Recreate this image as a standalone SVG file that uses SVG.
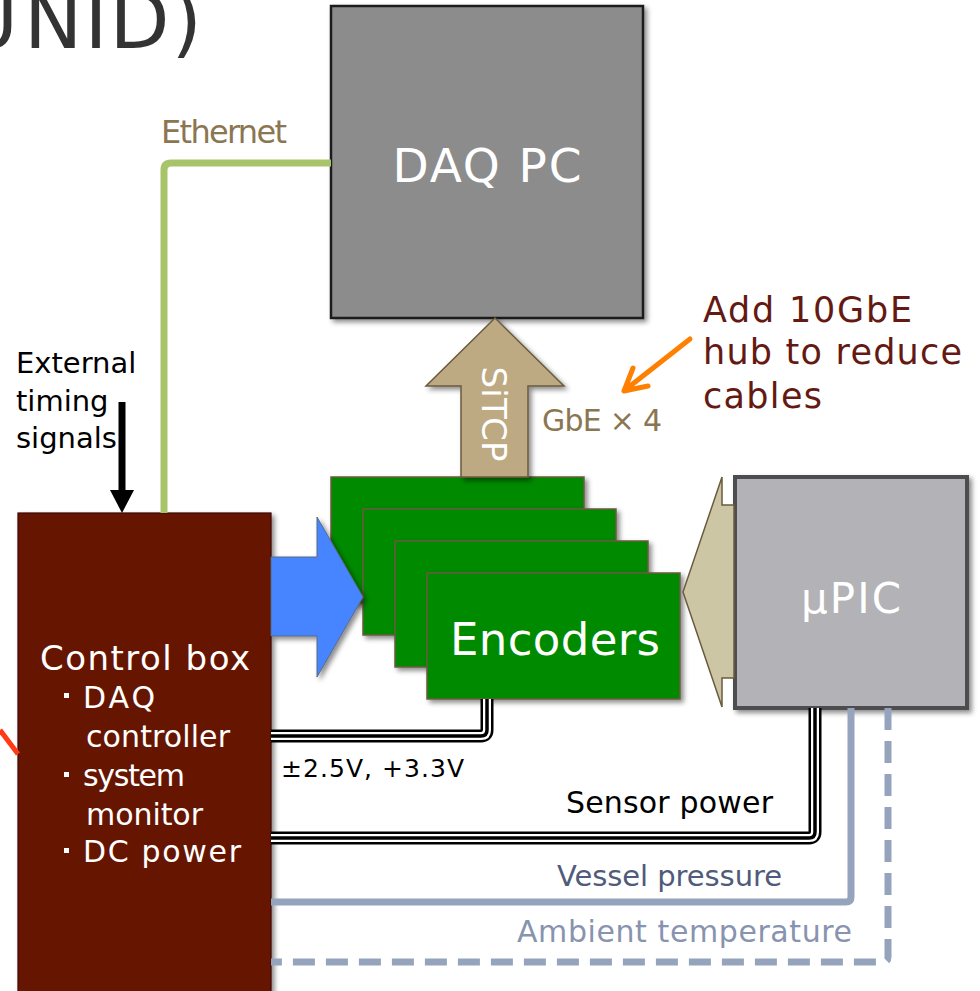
<svg xmlns="http://www.w3.org/2000/svg" width="980" height="991" viewBox="0 0 980 991">
<defs>
<filter id="sh" x="-10%" y="-10%" width="130%" height="130%">
<feDropShadow dx="3" dy="3" stdDeviation="2.5" flood-color="#000" flood-opacity="0.45"/>
</filter>
<style>
text{font-family:"DejaVu Sans","Liberation Sans",sans-serif;}
.w{fill:#fff;}
.enc{fill:#008a00;stroke:#6b5b3e;stroke-width:1.5;filter:url(#sh);}
.ck{fill:none;stroke-linejoin:round;stroke-linecap:butt;}
.c1{stroke:#000;stroke-width:13;}
.c2{stroke:#fff;stroke-width:8;}
.c3{stroke:#000;stroke-width:3.5;}
.sen{fill:none;stroke:#95a3bd;stroke-width:7;stroke-linejoin:round;}
.brn{fill:#8b7652;}
</style>
</defs>
<rect width="980" height="991" fill="#fff"/>

<g id="title">
<text y="48" font-size="78" fill="#333"><tspan x="-39">U</tspan><tspan x="24" textLength="178" lengthAdjust="spacing">NID)</tspan></text>
</g>

<g id="daq-pc">
<rect x="331" y="6" width="312" height="312" fill="#8c8c8c" stroke="#1a1a1a" stroke-width="2.5" filter="url(#sh)"/>
<text x="487" y="182" font-size="47" class="w" text-anchor="middle" textLength="189">DAQ PC</text>
</g>

<g id="control-box">
<rect x="18" y="513" width="253" height="485" fill="#661300" stroke="#3d0b00" stroke-width="1.2" filter="url(#sh)"/>
<text x="40" y="670" font-size="34" class="w" textLength="210">Control box</text>
<rect x="64" y="693" width="5" height="5" class="w"/>
<text x="83" y="708" font-size="30" class="w" textLength="72">DAQ</text>
<text x="86" y="747" font-size="30" class="w" textLength="144">controller</text>
<rect x="64" y="772" width="5" height="5" class="w"/>
<text x="83" y="786" font-size="30" class="w" textLength="102">system</text>
<text x="86" y="825" font-size="30" class="w" textLength="117">monitor</text>
<rect x="64" y="848" width="5" height="5" class="w"/>
<text x="83" y="862" font-size="30" class="w" textLength="158">DC power</text>
</g>

<g id="encoders">
<rect x="331" y="477" width="253" height="126" class="enc"/>
<rect x="363" y="509" width="253" height="126" class="enc"/>
<rect x="395" y="541" width="253" height="126" class="enc"/>
<rect x="427" y="573" width="253" height="126" class="enc"/>
<text x="555" y="655" font-size="45" class="w" text-anchor="middle" textLength="210">Encoders</text>
</g>

<g id="upic">
<rect x="735" y="477" width="232" height="231" fill="#b3b2b7" stroke="#4d4d4f" stroke-width="4" filter="url(#sh)"/>
<text x="851" y="613" font-size="42" class="w" text-anchor="middle" textLength="100">μPIC</text>
</g>

<g id="connectors">
<path d="M0,730 L18,754" stroke="#ff3a14" stroke-width="5" fill="none"/>
<path d="M164,513 V170 Q164,163 171,163 H331" fill="none" stroke="#a8c46b" stroke-width="7"/>
<path d="M122,402 V492" stroke="#000" stroke-width="7"/>
<polygon points="110,490 134,490 122,513" fill="#000"/>
<polygon points="271,557 317,557 317,517 363,597 317,677 317,636 271,636" fill="#4784ff" stroke="#5a6a80" stroke-width="1" filter="url(#sh)"/>
<polygon points="495,318 564,386 528,386 528,477 461,477 461,386 426,386" fill="#bda982" stroke="#6b5b3e" stroke-width="1.5" filter="url(#sh)"/>
<polygon points="683,592 722,477 722,505 734,505 734,678 722,678 722,707" fill="#cdc6a5" stroke="#6b5b3e" stroke-width="1.5"/>
<path class="ck c1" d="M271,736 H481 Q487,736 487,730 V699"/>
<path class="ck c2" d="M271,736 H481 Q487,736 487,730 V699"/>
<path class="ck c3" d="M271,736 H481 Q487,736 487,730 V699"/>
<path class="ck c1" d="M271,838 H809 Q815,838 815,832 V708"/>
<path class="ck c2" d="M271,838 H809 Q815,838 815,832 V708"/>
<path class="ck c3" d="M271,838 H809 Q815,838 815,832 V708"/>
<path class="sen" d="M271,902 H846 Q851,902 851,897 V708"/>
<path class="sen" d="M888,708 V957 Q888,962 883,962 H271" stroke-dasharray="22 11"/>
<path d="M690,339 L625,390 M633,368 L624,391 L648,386" fill="none" stroke="#ff7f00" stroke-width="5" stroke-linecap="round" stroke-linejoin="round"/>
</g>

<g id="labels">
<text x="161" y="143" font-size="32" class="brn" textLength="126">Ethernet</text>
<text x="16" y="373" font-size="29" fill="#000">External</text>
<text x="16" y="411" font-size="29" fill="#000">timing</text>
<text x="16" y="448" font-size="29" fill="#000">signals</text>
<g transform="translate(494,414) rotate(90)"><text x="0" y="12" font-size="34" class="w" text-anchor="middle" textLength="95">SiTCP</text></g>
<text x="542" y="431" font-size="30" class="brn" textLength="120">GbE × 4</text>
<text x="703" y="322" font-size="35" fill="#641a12" textLength="209">Add 10GbE</text>
<text x="703" y="364" font-size="35" fill="#641a12" textLength="259">hub to reduce</text>
<text x="703" y="408" font-size="35" fill="#641a12" textLength="119">cables</text>
<text x="281" y="777" font-size="25" fill="#000" textLength="183">±2.5V, +3.3V</text>
<text x="566" y="813" font-size="30" fill="#000" textLength="207">Sensor power</text>
<text x="557" y="886" font-size="29" fill="#4f5b7a" textLength="225">Vessel pressure</text>
<text x="517" y="942" font-size="30" fill="#8893b0" textLength="335">Ambient temperature</text>
</g>
</svg>
